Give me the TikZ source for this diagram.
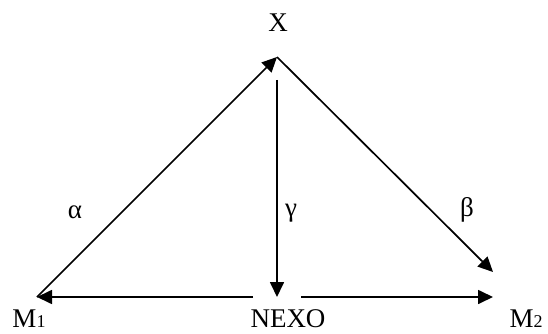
\documentclass[tikz,border=0pt]{standalone}
\usepackage{fontspec}
\setmainfont{Liberation Serif}
\usetikzlibrary{arrows.meta}

\begin{document}
\begin{tikzpicture}[x=1pt, y=-1pt,
    arr/.style={-{Triangle[length=15pt,width=14pt]}, line width=1.7pt},
    lbl/.style={font=\fontsize{27}{30}\selectfont, inner sep=0pt}]
    \useasboundingbox (0,0) rectangle (548,334);
    \coordinate (top) at (277,57);
    \coordinate (vs) at (277,80);
    \coordinate (p1) at (37,297);
    \coordinate (p2) at (493,297);
    \coordinate (q2) at (493,272);
    \coordinate (mid) at (277,297);
    \coordinate (gl) at (253,297);
    \coordinate (gr) at (301,297);
    \node[lbl] (x) at (278,23) {X};
    \node[lbl, anchor=base] (m1) at (29,327) {M{\fontsize{18}{20}\selectfont 1}};
    \node[lbl, anchor=base] (nexo) at (288,327) {NEXO};
    \node[lbl, anchor=base] (m2) at (526,327) {M{\fontsize{18}{20}\selectfont 2}};
    \node[lbl] (alpha) at (75,212) {α};
    \node[lbl] (gamma) at (291,213) {γ};
    \node[lbl] (beta) at (467,210) {β};
    \draw[arr] (p1) -- (top);
    \draw[arr] (top) -- (q2);
    \draw[arr] (vs) -- (mid);
    \draw[arr] (gl) -- (p1);
    \draw[arr] (gr) -- (p2);
\end{tikzpicture}
\end{document}
